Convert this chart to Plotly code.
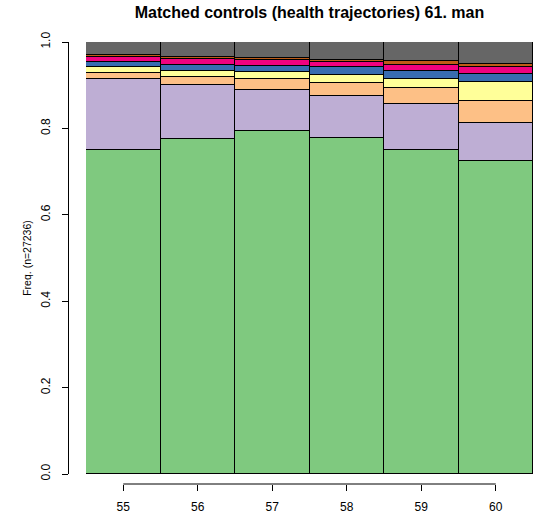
import plotly.graph_objects as go

ages = [55, 56, 57, 58, 59, 60]
state_names = ["s1", "s2", "s3", "s4", "s5", "s6", "s7", "s8"]
colors = ["#7FC97F", "#BEAED4", "#FDC086", "#FFFF99", "#386CB0", "#F0027F", "#BF5B17", "#666666"]
green = [0.750, 0.776, 0.793, 0.777, 0.750, 0.724]
purple = [0.164, 0.124, 0.096, 0.099, 0.106, 0.089]
orange = [0.015, 0.020, 0.025, 0.030, 0.037, 0.050]
yellow = [0.013, 0.013, 0.016, 0.018, 0.021, 0.044]
blue = [0.012, 0.014, 0.015, 0.018, 0.020, 0.020]
pink = [0.011, 0.014, 0.013, 0.012, 0.013, 0.014]
brown = [0.005, 0.004, 0.006, 0.005, 0.008, 0.007]
grey = [0.030, 0.035, 0.036, 0.041, 0.045, 0.052]
series = [green, purple, orange, yellow, blue, pink, brown, grey]
yticks = [0.0, 0.2, 0.4, 0.6, 0.8, 1.0]

FONT = "Liberation Sans, Arial, Helvetica, sans-serif"

fig = go.Figure()
for name, vals, col in zip(state_names, series, colors):
    fig.add_trace(go.Bar(x=ages, y=vals, name=name, width=1.0,
                         marker=dict(color=col, line=dict(color="black", width=1))))

W, H = 534, 516
ml, mr, mt, mb = 68, 1, 42, 32
pw = W - ml - mr
ph = H - mt - mb

fig.update_layout(
    width=W, height=H,
    margin=dict(l=ml, r=mr, t=mt, b=mb),
    barmode="stack", bargap=0,
    showlegend=False,
    plot_bgcolor="white", paper_bgcolor="white",
    font=dict(family=FONT, size=12, color="black"),
    title=dict(text="<b>Matched controls (health trajectories) 61. man</b>",
               x=(86 + 533) / 2 / W, xanchor="center",
               y=1 - 12.5 / H, yanchor="middle",
               font=dict(size=16, family=FONT, color="black")),
    xaxis=dict(domain=[18 / pw, 1], range=[ages[0] - 0.5, ages[-1] + 0.5],
               anchor="free", position=0,
               tickvals=ages, ticktext=[str(a) for a in ages],
               ticks="outside", ticklen=6, tickcolor="black", tickwidth=1,
               showline=False, showgrid=False, zeroline=False,
               ticklabelstandoff=6, tickfont=dict(size=12)),
    yaxis=dict(domain=[10 / ph, 1], range=[0, 1],
               anchor="free", position=0,
               tickvals=yticks, ticktext=[f"{v:.1f}" for v in yticks],
               ticks="outside", ticklen=6, tickcolor="black", tickwidth=1,
               showline=True, linecolor="black", linewidth=1,
               showgrid=False, zeroline=False,
               tickangle=-90, ticklabelstandoff=7, tickfont=dict(size=12),
               title=dict(text="Freq. (n=27236)", font=dict(size=10.5), standoff=4)),
)

fig.add_shape(type="line", xref="x", yref="paper",
              x0=ages[0], x1=ages[-1], y0=0, y1=0,
              line=dict(color="black", width=1))

fig.write_html("out.html")
